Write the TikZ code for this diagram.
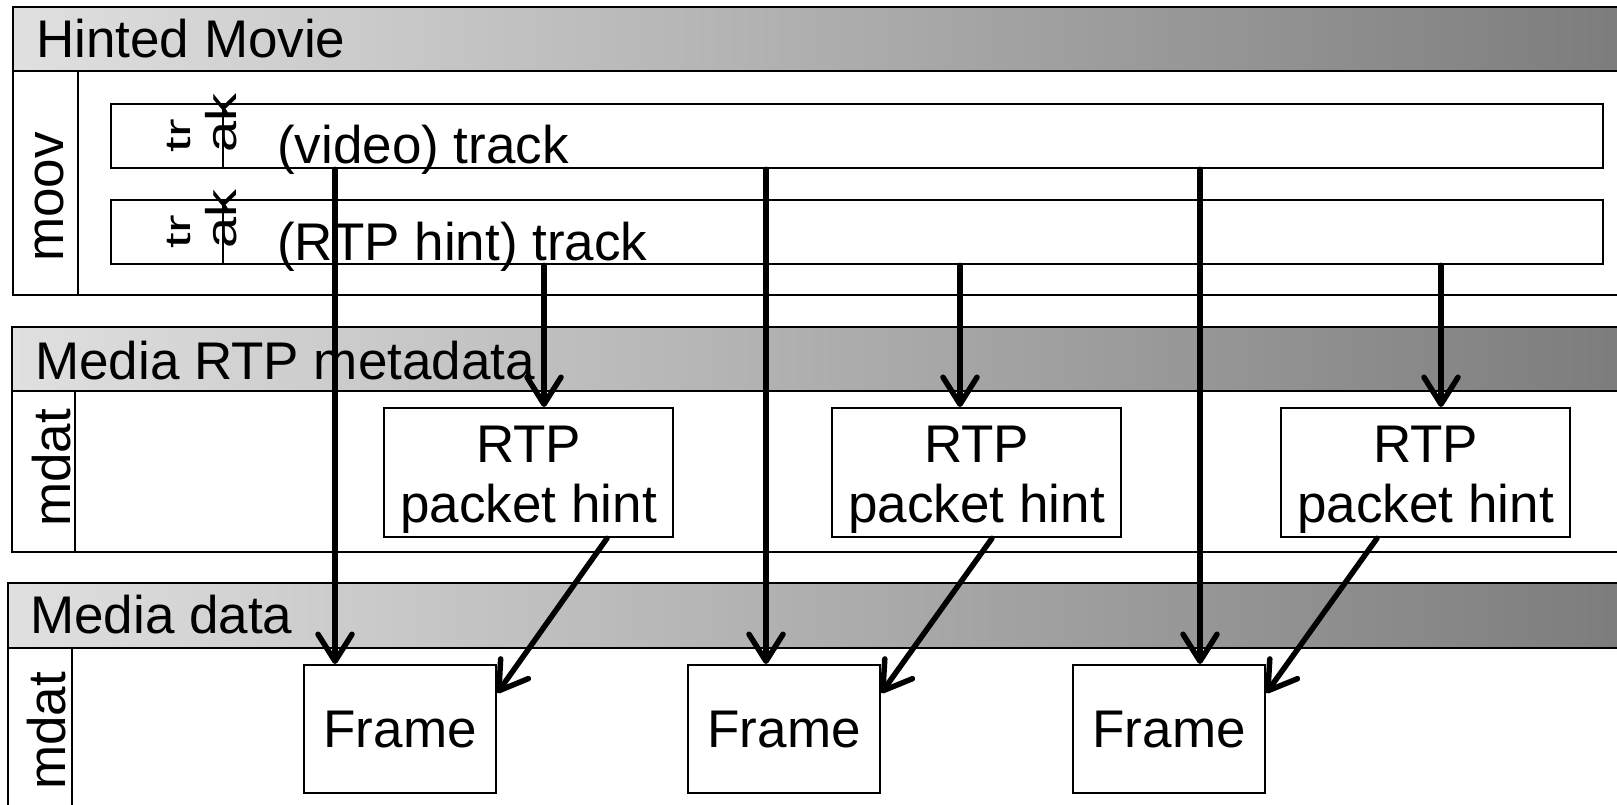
\documentclass[tikz,border=0pt]{standalone}
\usepackage{fontspec}
\usepackage{graphicx}
\setmainfont{Liberation Sans}
\usetikzlibrary{arrows.meta}
\definecolor{hdrL}{RGB}{224,224,224}
\definecolor{hdrR}{RGB}{122,122,122}
\newcommand\figfont{\fontsize{53}{60}\selectfont}
\begin{document}
\begin{tikzpicture}[x=1pt,y=-1pt,
  frame/.style={line width=2.3pt},
  hdr/.style={draw, line width=2.5pt, left color=hdrL, right color=hdrR},
  box/.style={draw, line width=2.3pt, inner sep=0pt, anchor=north west, font=\figfont},
  lbl/.style={font=\figfont, inner sep=0pt, anchor=base west},
  vlbl/.style={lbl, rotate=90},
  trlbl/.style={vlbl, font=\fontsize{36}{36}\selectfont},
  aklbl/.style={vlbl, font=\fontsize{43}{43}\selectfont},
  arr/.style={line width=5.5pt, line cap=round, -{Straight Barb[length=27pt, width=34pt, line width=5.5pt, round]}}]
\useasboundingbox (0,0) rectangle (1617,804);
\clip (0,0) rectangle (1617,804);
\fill[white] (0,0) rectangle (1617,804);
% band 1
\path[hdr] (13,7) rectangle (1660,71);
\draw[frame] (13,71) rectangle (1660,295);
\draw[frame] (78,71) -- (78,295);
% band 2
\path[hdr] (12,327) rectangle (1660,391);
\draw[frame] (12,391) rectangle (1660,552);
\draw[frame] (75,391) -- (75,552);
% band 3
\path[hdr] (8,583) rectangle (1660,648);
\draw[frame] (8,648) rectangle (1660,830);
\draw[frame] (72,648) -- (72,830);
% header labels
\node[lbl] (h1) at (36,57) {Hinted Movie};
\node[lbl] (h2) at (35,379) {Media RTP metadata};
\node[lbl] (h3) at (30,633) {Media data};
\node[vlbl] (moov) at (63,262) {moov};
\node[vlbl] (md1) at (70,527) {mdat};
\node[vlbl] (md2) at (65,790) {mdat};
% tracks
\node[box, minimum width=1492pt, minimum height=64pt] (trk1) at (110,103) {};
\node[box, minimum width=1492pt, minimum height=64pt] (trk2) at (110,199) {};
\draw[frame] ([xshift=113pt]trk1.north west) -- ([xshift=113pt]trk1.south west);
\draw[frame] ([xshift=113pt]trk2.north west) -- ([xshift=113pt]trk2.south west);
\node[trlbl] (tr1) at (190,153) {\scalebox{1.55}[1]{tr}};
\node[aklbl] (ak1) at (236,153) {\scalebox{1.3}[1]{ak}};
\node[trlbl] (tr2) at (190,249) {\scalebox{1.55}[1]{tr}};
\node[aklbl] (ak2) at (236,249) {\scalebox{1.3}[1]{ak}};
\node[lbl] (t1) at (277,163) {(video) track};
\node[lbl] (t2) at (277,260) {(RTP hint) track};
% RTP packet hints
\node[box, minimum width=289pt, minimum height=129pt, align=center] (r1) at (383,407) {\rule{0pt}{50pt}RTP\\packet hint};
\node[box, minimum width=289pt, minimum height=129pt, align=center] (r2) at (831,407) {\rule{0pt}{50pt}RTP\\packet hint};
\node[box, minimum width=289pt, minimum height=129pt, align=center] (r3) at (1280,407) {\rule{0pt}{50pt}RTP\\packet hint};
% frames
\node[box, minimum width=192pt, minimum height=128pt] (f1) at (303,664) {Frame};
\node[box, minimum width=192pt, minimum height=128pt] (f2) at (687,664) {Frame};
\node[box, minimum width=192pt, minimum height=128pt] (f3) at (1072,664) {Frame};
% connectors
\coordinate (a1) at ([xshift=32pt]f1.north west);
\coordinate (a2) at ([xshift=79pt]f2.north west);
\coordinate (a3) at ([xshift=128pt]f3.north west);
\coordinate (b1) at ([xshift=161pt]r1.north west);
\coordinate (b2) at ([xshift=129pt]r2.north west);
\coordinate (b3) at ([xshift=161pt]r3.north west);
\draw[arr] (a1 |- trk1.south) -- (a1);
\draw[arr] (a2 |- trk1.south) -- (a2);
\draw[arr] (a3 |- trk1.south) -- (a3);
\draw[arr] (b1 |- trk2.south) -- (b1);
\draw[arr] (b2 |- trk2.south) -- (b2);
\draw[arr] (b3 |- trk2.south) -- (b3);
\draw[arr] ([xshift=224pt]r1.south west) -- ([yshift=-29pt]f1.north east);
\draw[arr] ([xshift=161pt]r2.south west) -- ([yshift=-29pt]f2.north east);
\draw[arr] ([xshift=97pt]r3.south west) -- ([yshift=-29pt]f3.north east);
\end{tikzpicture}
\end{document}
